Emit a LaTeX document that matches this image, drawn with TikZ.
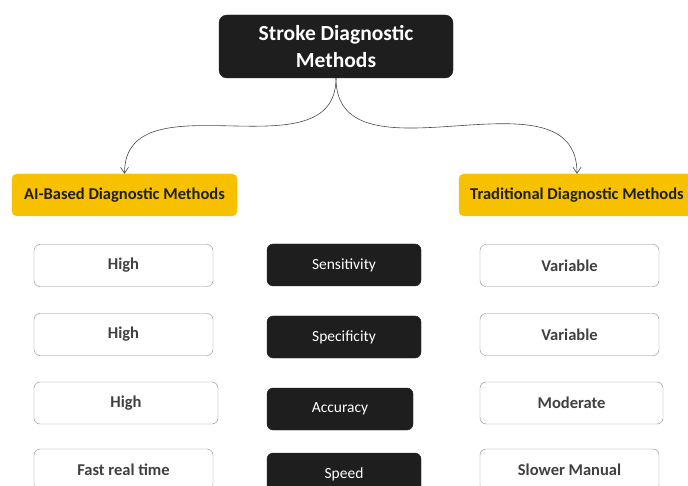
\documentclass[tikz,border=0pt]{standalone}
\usepackage{fontspec}
\setmainfont{Carlito}
\usetikzlibrary{arrows.meta,positioning}
\definecolor{Ink}{HTML}{1E1E1E}
\definecolor{Gold}{HTML}{F7C100}
\definecolor{Edge}{HTML}{8A8A8A}
\definecolor{Wire}{HTML}{4A4A4A}
\tikzset{
  rootbox/.style={fill=Ink, draw=Ink, rounded corners=8pt, text=white,
    minimum width=234pt, minimum height=63pt, align=center,
    font=\fontsize{21.5}{27}\selectfont\bfseries},
  groupbox/.style={fill=Gold, draw=Gold, rounded corners=5pt, text=Ink,
    minimum height=42pt, font=\fontsize{16.5}{19}\selectfont\bfseries},
  valbox/.style={draw=Edge, fill=white, rounded corners=6pt, text=Ink!85,
    minimum height=42pt, font=\fontsize{16.5}{19}\selectfont\bfseries},
  critbox/.style={fill=Ink, draw=Ink, rounded corners=6pt, text=white,
    minimum height=42pt, font=\fontsize{15.5}{18}\selectfont},
  curvearr/.style={-{Straight Barb[length=6pt,width=8pt]}, semithick, color=Wire},
}
\begin{document}
\begin{tikzpicture}[x=1pt, y=-1pt]
  \clip (0,0) rectangle (688,486);
  \fill[white] (0,0) rectangle (688,486);

  \node[rootbox] (root) at (336,46.5) {Stroke Diagnostic\\Methods};
  \node[groupbox, minimum width=225pt] (ai) at (124.5,195) {AI-Based Diagnostic Methods};
  \node[groupbox, minimum width=236pt] (trad) at (577,195) {Traditional Diagnostic Methods};

  % AI-based values
  \node[valbox, minimum width=179pt] (ai1) at (123.5,265.5) {High};
  \node[valbox, minimum width=179pt] (ai2) at (123.5,334.5) {High};
  \node[valbox, minimum width=184pt] (ai3) at (126,403) {High};
  \node[valbox, minimum width=179pt] (ai4) at (123.5,470) {Fast real time};

  % criteria
  \node[critbox, minimum width=154pt] (sens) at (344,265) {Sensitivity};
  \node[critbox, minimum width=154pt] (spec) at (344,337) {Specificity};
  \node[critbox, minimum width=146pt] (accu) at (340,409) {Accuracy};
  \node[critbox, minimum width=154pt] (speed) at (344,474) {Speed};

  % traditional values
  \node[valbox, minimum width=179pt] (tr1) at (569.5,265.5) {Variable};
  \node[valbox, minimum width=179pt] (tr2) at (569.5,334.5) {Variable};
  \node[valbox, minimum width=183pt] (tr3) at (571.5,403) {Moderate};
  \node[valbox, minimum width=179pt] (tr4) at (569.5,470) {Slower Manual};

  \draw[curvearr] (root.south) to[out=-90, in=90, looseness=1.1] (ai.north);
  \draw[curvearr] (root.south) to[out=-90, in=90, looseness=1.1] (trad.north);
\end{tikzpicture}
\end{document}
